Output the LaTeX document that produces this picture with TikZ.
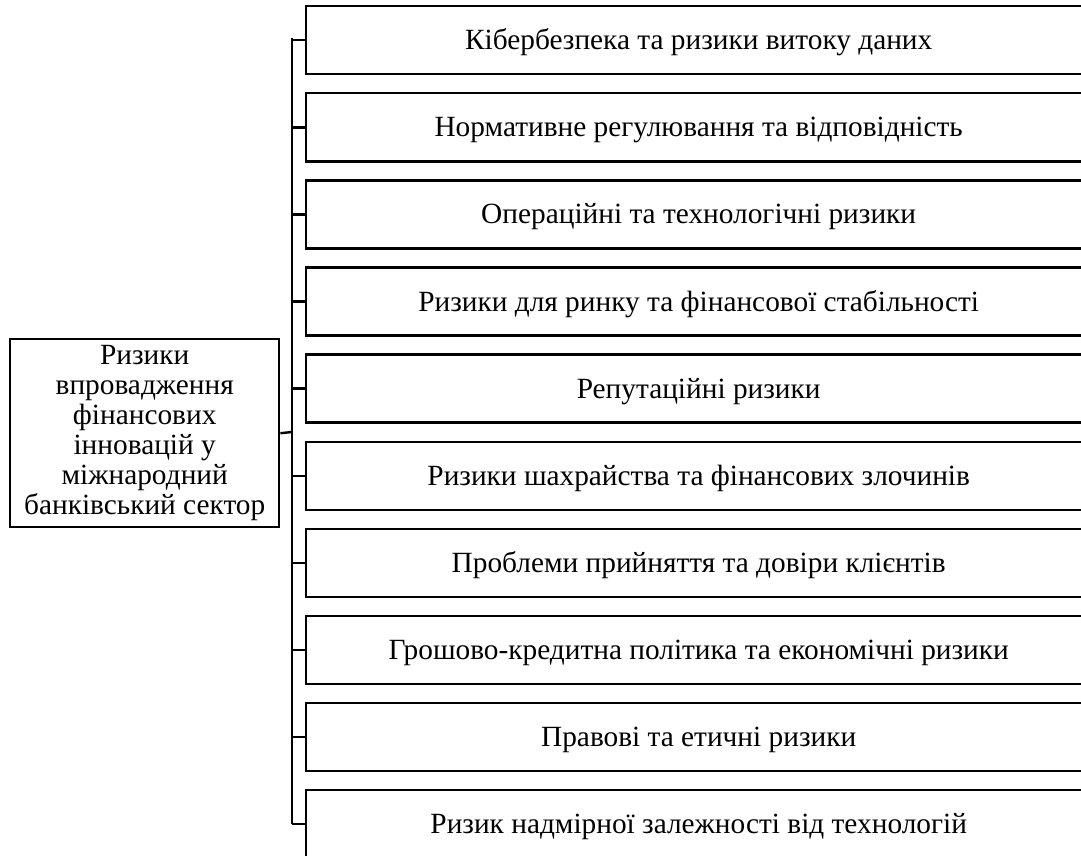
\documentclass[tikz,border=0pt]{standalone}
\usepackage{fontspec}
\setmainfont{Liberation Serif}
\begin{document}
\begin{tikzpicture}[x=0.75pt,y=-0.75pt,
  box/.style={draw,line width=1.8pt,inner sep=0pt,anchor=north west},
  conn/.style={line width=1.8pt},
  lbl/.style={font=\fontsize{22}{22.5}\selectfont,text height=16.5pt,text depth=2.2pt}]
\useasboundingbox (0,0) rectangle (1081,856);
\clip (0,0) rectangle (1081,856);
\node[box,minimum width=269*0.75pt,minimum height=188*0.75pt,align=center,font=\fontsize{22}{22.5}\selectfont] (root) at (9,338) {Ризики\\впровадження\\фінансових\\інновацій у\\міжнародний\\банківський сектор};
\foreach \i/\t in {0/{Кібербезпека та ризики витоку даних},
  1/{Нормативне регулювання та відповідність},
  2/{Операційні та технологічні ризики},
  3/{Ризики для ринку та фінансової стабільності},
  4/{Репутаційні ризики},
  5/{Ризики шахрайства та фінансових злочинів},
  6/{Проблеми прийняття та довіри клієнтів},
  7/{Грошово-кредитна політика та економічні ризики},
  8/{Правові та етичні ризики},
  9/{Ризик надмірної залежності від технологій}} {
  \node[box,minimum width=785*0.75pt,minimum height=68*0.75pt,lbl] (b\i) at (305,{5+87.1*\i}) {\t};
}
\coordinate (top) at (292,39);
\coordinate (bot) at (292,823);
\coordinate (mid) at (292,432);
\draw[conn,line cap=rect] (top) -- (bot);
\foreach \i in {0,...,9} { \draw[conn] (b\i.west) -- (b\i.west -| top); }
\draw[conn] (root.east) -- (mid);
\end{tikzpicture}
\end{document}
